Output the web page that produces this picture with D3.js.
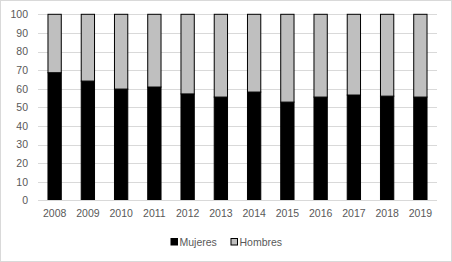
<!DOCTYPE html>
<html><head><meta charset="utf-8">
<script src="https://cdn.jsdelivr.net/npm/d3@7"></script>
<style>body{margin:0;background:#fff}svg{display:block}text{font-family:"Liberation Sans",Arial,sans-serif}</style>
</head><body>
<script>
const years = ["2008","2009","2010","2011","2012","2013","2014","2015","2016","2017","2018","2019"];
const mujeres = [68.6,64.1,59.8,60.9,57.2,55.5,58.2,52.8,55.5,56.6,56.0,55.5];
const hombres = mujeres.map(v => +(100 - v).toFixed(1));
const seriesNames = ["Mujeres","Hombres"];
const yTicks = [0,10,20,30,40,50,60,70,80,90,100];

const W = 452, H = 262;
const m = {left:38, right:15, top:14.3, bottom:61.7};
const svg = d3.select("body").append("svg").attr("width",W).attr("height",H);
svg.append("rect").attr("x",0.5).attr("y",0.5).attr("width",W-1).attr("height",H-1)
  .attr("fill","#fff").attr("stroke","#d9d9d9");

const x = d3.scaleBand().domain(years).range([m.left, W-m.right]).paddingInner(0.6).paddingOuter(0.3);
const y = d3.scaleLinear().domain([0,100]).range([H-m.bottom, m.top]);

// gridlines
svg.append("g").selectAll("line").data(yTicks.filter(d=>d>0)).join("line")
  .attr("x1",m.left).attr("x2",W-m.right)
  .attr("y1",d=>Math.round(y(d))+0.5).attr("y2",d=>Math.round(y(d))+0.5)
  .attr("stroke","#d9d9d9").attr("stroke-width",1);

const yAxis = svg.append("g").attr("transform",`translate(${m.left},0)`)
  .call(d3.axisLeft(y).tickValues(yTicks).tickSize(0).tickPadding(10));
yAxis.select(".domain").remove();
yAxis.selectAll("text").attr("fill","#595959").attr("font-size","10.5px");

const data = years.map((yr,i)=>({year:yr, Mujeres:mujeres[i], Hombres:hombres[i]}));
const stack = d3.stack().keys(seriesNames)(data);
const colors = {Mujeres:"#000000", Hombres:"#bfbfbf"};

svg.append("g").selectAll("g").data(stack).join("g")
  .attr("fill",d=>colors[d.key]).attr("stroke","#000").attr("stroke-width",1)
  .selectAll("rect").data(d=>d).join("rect")
  .attr("x",d=>x(d.data.year)).attr("width",x.bandwidth())
  .attr("y",d=>y(d[1])).attr("height",d=>y(d[0])-y(d[1]));

// x axis baseline
svg.append("line").attr("x1",m.left).attr("x2",W-m.right)
  .attr("y1",Math.round(y(0))+0.5).attr("y2",Math.round(y(0))+0.5)
  .attr("stroke","#d9d9d9");

const xAxis = svg.append("g").attr("transform",`translate(0,${y(0)})`)
  .call(d3.axisBottom(x).tickSize(0).tickPadding(9));
xAxis.select(".domain").remove();
xAxis.selectAll("text").attr("fill","#595959").attr("font-size","10.5px");

// legend
const legendItems = [{name:"Mujeres", x:170.5},{name:"Hombres", x:230.5}];
const lg = svg.append("g").selectAll("g").data(legendItems).join("g")
  .attr("transform",d=>`translate(${d.x},238)`);
lg.append("rect").attr("x",0.5).attr("y",0.5).attr("width",6.5).attr("height",6.5)
  .attr("fill",d=>colors[d.name]).attr("stroke","#000");
lg.append("text").attr("x",9).attr("y",8.3).attr("font-size","10.5px").attr("fill","#595959").text(d=>d.name);
</script>
</body></html>
